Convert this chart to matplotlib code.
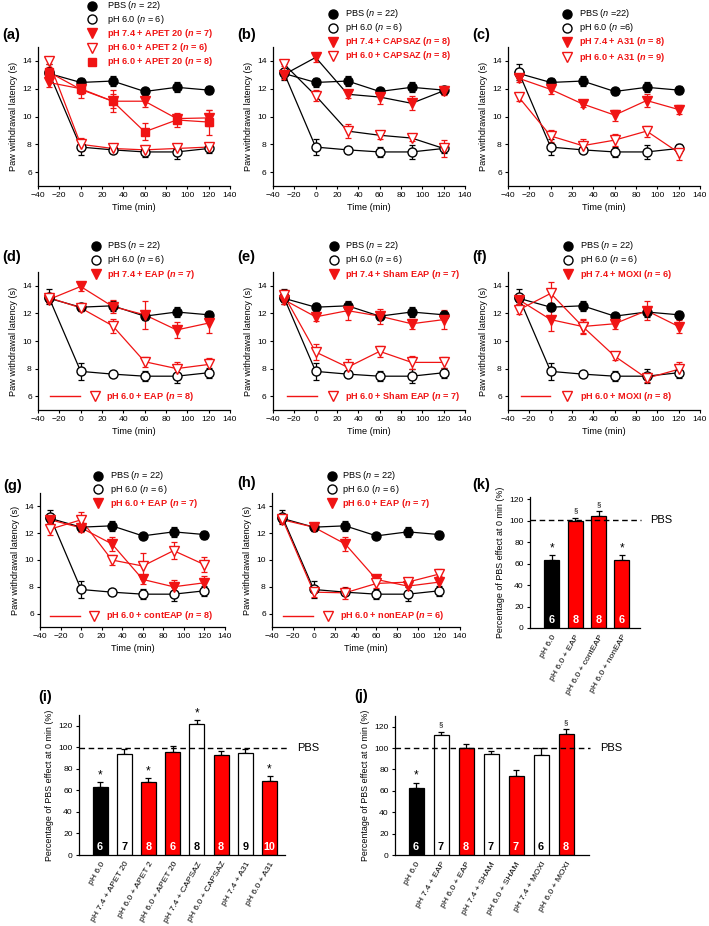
import matplotlib
matplotlib.use('Agg')
import matplotlib.pyplot as plt
import numpy as np
from matplotlib.lines import Line2D

plt.rcParams['font.family'] = ['Liberation Sans', 'DejaVu Sans']
plt.rcParams['mathtext.fontset'] = 'custom'
plt.rcParams['mathtext.rm'] = 'Liberation Sans'
plt.rcParams['mathtext.it'] = 'Liberation Sans:italic'
plt.rcParams['mathtext.bf'] = 'Liberation Sans:bold'
plt.rcParams['mathtext.bfit'] = 'Liberation Sans:bold:italic'

# ---------------- data ----------------
time = [-30, 0, 30, 60, 90, 120]
pbs_mean = [13.1, 12.45, 12.55, 11.8, 12.1, 11.9]
pbs_err = [0.3, 0.3, 0.35, 0.25, 0.35, 0.3]
ph6_mean = [13.2, 7.8, 7.6, 7.45, 7.45, 7.7]
ph6_err = [0.55, 0.6, 0.2, 0.35, 0.5, 0.35]

a_apet20_74 = [12.45, 12.0, 11.1, 11.1, 9.85, 9.9]
a_apet20_74_err = [0.35, 0.35, 0.5, 0.4, 0.3, 0.6]
a_apet2_60 = [14.0, 8.0, 7.7, 7.6, 7.7, 7.8]
a_apet2_60_err = [0.2, 0.45, 0.35, 0.2, 0.25, 0.2]
a_apet20_60 = [13.2, 11.95, 11.1, 8.9, 9.75, 9.6]
a_apet20_60_err = [0.35, 0.6, 0.8, 0.6, 0.5, 0.9]

b_caps_74 = [13.0, 14.25, 11.6, 11.4, 10.95, 11.85]
b_caps_74_err = [0.3, 0.35, 0.3, 0.5, 0.5, 0.3]
b_caps_60 = [13.8, 11.5, 8.95, 8.65, 8.45, 7.7]
b_caps_60_err = [0.2, 0.4, 0.5, 0.3, 0.2, 0.6]

c_a31_74 = [12.75, 11.95, 10.9, 10.1, 11.15, 10.5]
c_a31_74_err = [0.25, 0.35, 0.25, 0.4, 0.45, 0.3]
c_a31_60 = [11.4, 8.6, 7.9, 8.3, 8.95, 7.4]
c_a31_60_err = [0.3, 0.45, 0.5, 0.45, 0.4, 0.5]

d_eap_74 = [13.0, 13.95, 12.5, 11.9, 10.8, 11.3]
d_eap_74_err = [0.25, 0.35, 0.5, 1.0, 0.55, 0.75]
d_eap_60 = [13.15, 12.4, 11.1, 8.5, 8.0, 8.3]
d_eap_60_err = [0.3, 0.25, 0.5, 0.35, 0.5, 0.5]

e_sham_74 = [13.0, 11.75, 12.2, 11.8, 11.25, 11.55]
e_sham_74_err = [0.3, 0.3, 0.65, 0.55, 0.35, 0.7]
e_sham_60 = [13.35, 9.2, 8.1, 9.25, 8.45, 8.45]
e_sham_60_err = [0.35, 0.55, 0.6, 0.4, 0.45, 0.4]

f_moxi_74 = [13.0, 11.55, 11.05, 11.25, 12.2, 11.05]
f_moxi_74_err = [0.3, 0.85, 0.55, 0.4, 0.7, 0.45]
f_moxi_60 = [12.25, 13.45, 11.05, 8.9, 7.3, 7.95]
f_moxi_60_err = [0.3, 0.8, 0.5, 0.3, 0.3, 0.5]

g_eap_60 = [13.0, 12.4, 11.2, 8.55, 8.0, 8.3]
g_eap_60_err = [0.25, 0.3, 0.5, 0.35, 0.5, 0.5]
g_cont_60 = [12.3, 13.0, 10.0, 9.55, 10.7, 9.65]
g_cont_60_err = [0.45, 0.55, 0.4, 1.0, 0.65, 0.55]

h_eap_60 = [13.0, 12.45, 11.2, 8.55, 8.05, 8.35]
h_eap_60_err = [0.25, 0.3, 0.5, 0.35, 0.45, 0.45]
h_non_60 = [13.05, 7.6, 7.55, 8.25, 8.35, 8.95]
h_non_60_err = [0.3, 0.35, 0.45, 0.35, 0.3, 0.35]

i_labels = ['pH 6.0', 'pH 7.4 + APET 20', 'pH 6.0 + APET 2', 'pH 6.0 + APET 20',
            'pH 7.4 + CAPSAZ', 'pH 6.0 + CAPSAZ', 'pH 7.4 + A31', 'pH 6.0 + A31']
i_vals = [62.8, 93.7, 67.7, 95.9, 121.6, 92.8, 95.0, 69.0]
i_errs = [4.6, 5.0, 3.7, 5.0, 3.4, 4.0, 3.7, 4.0]
i_n = ['6', '7', '8', '6', '8', '8', '9', '10']
i_marks = ['*', '', '*', '', '*', '', '', '*']
i_kind = ['k', 'w', 'r', 'r', 'w', 'r', 'w', 'r']

j_labels = ['pH 6.0', 'pH 7.4 + EAP', 'pH 6.0 + EAP', 'pH 7.4 + SHAM',
            'pH 6.0 + SHAM', 'pH 7.4 + MOXI', 'pH 6.0 + MOXI']
j_vals = [63.1, 112.2, 99.8, 94.5, 74.3, 93.3, 113.1]
j_errs = [4.6, 3.1, 3.7, 2.8, 5.0, 7.0, 4.4]
j_n = ['6', '7', '8', '7', '7', '6', '8']
j_marks = ['*', '§', '', '', '', '', '§']
j_kind = ['k', 'w', 'r', 'w', 'r', 'w', 'r']

k_labels = ['pH 6.0', 'pH 6.0 + EAP', 'pH 6.0 + contEAP', 'pH 6.0 + nonEAP']
k_vals = [63.2, 99.7, 104.4, 63.2]
k_errs = [4.7, 3.0, 4.5, 4.5]
k_n = ['6', '8', '8', '6']
k_marks = ['*', '§', '§', '*']
k_kind = ['k', 'r', 'r', 'r']

# ---------------- figure ----------------
W, H = 709, 926
fig = plt.figure(figsize=(W / 100, H / 100), dpi=100)
RED = '#f01414'
FS = 6.6
TFS = 6.1
MS = 6.5


def rect(l, t, r, b):
    return [l / W, 1 - b / H, (r - l) / W, (b - t) / H]


def fx(x):
    return x / W


def fy(y):
    return 1 - y / H


def panel_letter(x, y, s):
    fig.text(fx(x), fy(y), s, fontsize=10.5, fontweight='bold', ha='left', va='center')


def leg_entry(xm, xt, y, label, marker, mfc, mec, red=False, line=None, ms=MS):
    if line is not None:
        fig.add_artist(Line2D([fx(line[0]), fx(line[1])], [fy(y), fy(y)], color=RED, lw=1.0,
                              transform=fig.transFigure))
    fig.add_artist(Line2D([fx(xm)], [fy(y)], marker=marker, ms=ms, mfc=mfc, mec=mec, mew=1.0,
                          ls='none', transform=fig.transFigure))
    fig.text(fx(xt), fy(y), label, color=RED if red else 'black', fontsize=FS,
             fontweight='bold' if red else 'normal', ha='left', va='center')


def style_axes(ax):
    for s in ['top', 'right']:
        ax.spines[s].set_visible(False)
    for s in ['left', 'bottom']:
        ax.spines[s].set_linewidth(0.9)
    ax.tick_params(direction='out', length=2.5, width=0.8, labelsize=TFS, pad=2)


def line_panel(r, series):
    ax = fig.add_axes(rect(*r))
    ax.set_xlim(-40, 140)
    ax.set_ylim(5, 15)
    ax.set_xticks(np.arange(-40, 141, 20))
    ax.set_yticks([6, 8, 10, 12, 14])
    style_axes(ax)
    ax.set_xlabel('Time (min)', fontsize=FS, labelpad=3)
    ax.set_ylabel('Paw withdrawal latency (s)', fontsize=FS, labelpad=3)
    for mean, err, marker, mfc, mec, lc, ms in series:
        ax.errorbar(time, mean, yerr=err, fmt='none', ecolor=mec, elinewidth=0.9,
                    capsize=2, capthick=0.9, zorder=2)
        ax.plot(time, mean, color=lc, lw=0.9, zorder=3)
        ax.plot(time, mean, ls='none', marker=marker, ms=ms, mfc=mfc, mec=mec, mew=1.0, zorder=4)
    return ax


def base_series():
    return [(pbs_mean, pbs_err, 'o', 'black', 'black', 'black', MS),
            (ph6_mean, ph6_err, 'o', 'white', 'black', 'black', MS)]


def fv(m, e):
    return (m, e, 'v', RED, RED, RED, MS)


def ov(m, e, lc=RED):
    return (m, e, 'v', 'white', RED, lc, MS)


# (a)
line_panel((38, 47, 230, 186), base_series() + [
    fv(a_apet20_74, a_apet20_74_err),
    ov(a_apet2_60, a_apet2_60_err),
    (a_apet20_60, a_apet20_60_err, 's', RED, RED, RED, 6.0)])
panel_letter(2, 35, '(a)')
leg_entry(92, 107, 6, r'PBS ($\mathit{n}$ = 22)', 'o', 'black', 'black')
leg_entry(92, 107, 19, r'pH 6.0 ($\mathit{n}$ = 6)', 'o', 'white', 'black')
leg_entry(92, 107, 33, r'pH 7.4 + APET 20 ($\mathbfit{n}$ = 7)', 'v', RED, RED, red=True)
leg_entry(92, 107, 48, r'pH 6.0 + APET 2 ($\mathbfit{n}$ = 6)', 'v', 'white', RED, red=True)
leg_entry(92, 107, 62, r'pH 6.0 + APET 20 ($\mathbfit{n}$ = 8)', 's', RED, RED, red=True, ms=6.0)

# (b)
line_panel((273, 47, 465, 186), base_series() + [
    (b_caps_74, b_caps_74_err, 'v', RED, RED, 'black', MS),
    (b_caps_60, b_caps_60_err, 'v', 'white', RED, 'black', MS)])
panel_letter(237, 35, '(b)')
leg_entry(333, 345, 14, r'PBS ($\mathit{n}$ = 22)', 'o', 'black', 'black')
leg_entry(333, 345, 28, r'pH 6.0 ($\mathit{n}$ = 6)', 'o', 'white', 'black')
leg_entry(333, 345, 42, r'pH 7.4 + CAPSAZ ($\mathbfit{n}$ = 8)', 'v', RED, RED, red=True)
leg_entry(333, 345, 56, r'pH 6.0 + CAPSAZ ($\mathbfit{n}$ = 8)', 'v', 'white', RED, red=True)

# (c)
line_panel((508, 47, 700, 186), base_series() + [
    fv(c_a31_74, c_a31_74_err), ov(c_a31_60, c_a31_60_err)])
panel_letter(472, 35, '(c)')
leg_entry(567, 579, 14, r'PBS ($\mathit{n}$ =22)', 'o', 'black', 'black')
leg_entry(567, 579, 28, r'pH 6.0 ($\mathit{n}$ =6)', 'o', 'white', 'black')
leg_entry(567, 579, 42, r'pH 7.4 + A31 ($\mathbfit{n}$ = 8)', 'v', RED, RED, red=True)
leg_entry(567, 579, 57, r'pH 6.0 + A31 ($\mathbfit{n}$ = 9)', 'v', 'white', RED, red=True)

# (d)
line_panel((38, 272, 230, 410), base_series() + [
    fv(d_eap_74, d_eap_74_err), ov(d_eap_60, d_eap_60_err)])
panel_letter(2, 257, '(d)')
leg_entry(96, 107, 246, r'PBS ($\mathit{n}$ = 22)', 'o', 'black', 'black')
leg_entry(96, 107, 260, r'pH 6.0 ($\mathit{n}$ = 6)', 'o', 'white', 'black')
leg_entry(96, 107, 274, r'pH 7.4 + EAP ($\mathbfit{n}$ = 7)', 'v', RED, RED, red=True)
leg_entry(95, 106, 396, r'pH 6.0 + EAP ($\mathbfit{n}$ = 8)', 'v', 'white', RED, red=True, line=(50, 80))

# (e)
line_panel((273, 272, 465, 410), base_series() + [
    fv(e_sham_74, e_sham_74_err), ov(e_sham_60, e_sham_60_err)])
panel_letter(237, 257, '(e)')
leg_entry(334, 345, 246, r'PBS ($\mathit{n}$ = 22)', 'o', 'black', 'black')
leg_entry(334, 345, 260, r'pH 6.0 ($\mathit{n}$ = 6)', 'o', 'white', 'black')
leg_entry(334, 345, 274, r'pH 7.4 + Sham EAP ($\mathbfit{n}$ = 7)', 'v', RED, RED, red=True)
leg_entry(333, 345, 396, r'pH 6.0 + Sham EAP ($\mathbfit{n}$ = 7)', 'v', 'white', RED, red=True, line=(287, 317))

# (f)
line_panel((508, 272, 700, 410), base_series() + [
    fv(f_moxi_74, f_moxi_74_err), ov(f_moxi_60, f_moxi_60_err)])
panel_letter(472, 257, '(f)')
leg_entry(568, 580, 246, r'PBS ($\mathit{n}$ = 22)', 'o', 'black', 'black')
leg_entry(568, 580, 260, r'pH 6.0 ($\mathit{n}$ = 6)', 'o', 'white', 'black')
leg_entry(568, 580, 274, r'pH 7.4 + MOXI ($\mathbfit{n}$ = 6)', 'v', RED, RED, red=True)
leg_entry(567, 580, 396, r'pH 6.0 + MOXI ($\mathbfit{n}$ = 8)', 'v', 'white', RED, red=True, line=(521, 550))

# (g)
line_panel((40, 493, 225, 627), base_series() + [
    fv(g_eap_60, g_eap_60_err), ov(g_cont_60, g_cont_60_err)])
panel_letter(3, 486, '(g)')
leg_entry(98, 110, 476, r'PBS ($\mathit{n}$ = 22)', 'o', 'black', 'black')
leg_entry(98, 110, 489, r'pH 6.0 ($\mathit{n}$ = 6)', 'o', 'white', 'black')
leg_entry(98, 110, 503, r'pH 6.0 + EAP ($\mathbfit{n}$ = 7)', 'v', RED, RED, red=True)
leg_entry(94, 106, 616, r'pH 6.0 + contEAP ($\mathbfit{n}$ = 8)', 'v', 'white', RED, red=True, line=(50, 80))

# (h)
line_panel((272, 493, 460, 627), base_series() + [
    fv(h_eap_60, h_eap_60_err), ov(h_non_60, h_non_60_err)])
panel_letter(237, 483, '(h)')
leg_entry(332, 342, 476, r'PBS ($\mathit{n}$ = 22)', 'o', 'black', 'black')
leg_entry(332, 342, 489, r'pH 6.0 ($\mathit{n}$ = 6)', 'o', 'white', 'black')
leg_entry(332, 342, 503, r'pH 6.0 + EAP ($\mathbfit{n}$ = 7)', 'v', RED, RED, red=True)
leg_entry(328, 340, 616, r'pH 6.0 + nonEAP ($\mathbfit{n}$ = 6)', 'v', 'white', RED, red=True, line=(283, 313))


# ---------------- bar panels ----------------
KIND_FACE = {'k': 'black', 'w': 'white', 'r': '#ff0000'}
KIND_TXT = {'k': 'white', 'w': 'black', 'r': 'white'}


def bar_panel(r, labels, vals, errs, ns, marks, kinds, xlim, ylim, pbs_y, pbs_ext, width):
    ax = fig.add_axes(rect(*r))
    x = np.arange(len(vals))
    ax.set_xlim(*xlim)
    ax.set_ylim(*ylim)
    style_axes(ax)
    ax.bar(x, vals, width=width, color=[KIND_FACE[k] for k in kinds], edgecolor='black',
           linewidth=0.9, zorder=2)
    ax.errorbar(x, vals, yerr=[np.zeros(len(vals)), errs], fmt='none', ecolor='black',
                elinewidth=0.9, capsize=2.2, capthick=0.9, zorder=1)
    for xi, v, e, n, m, k in zip(x, vals, errs, ns, marks, kinds):
        ax.text(xi, 2.5, n, ha='center', va='bottom', fontsize=7.8, fontweight='bold',
                color=KIND_TXT[k], zorder=3)
        if m == '*':
            ax.text(xi, v + e + 1.0, m, ha='center', va='bottom', fontsize=8.5)
        elif m:
            ax.text(xi, v + e + 3.0, m, ha='center', va='bottom', fontsize=5.5)
    ax.plot([xlim[0], xlim[1] + pbs_ext], [pbs_y, pbs_y], color='black', lw=1.0,
            dashes=(4, 2.6), clip_on=False, zorder=4)
    ax.text(xlim[1] + pbs_ext + 0.4, pbs_y, 'PBS', fontsize=8, ha='left', va='center')
    ax.set_yticks(np.arange(0, 121, 20))
    ax.set_xticks(x)
    ax.set_xticklabels(labels, rotation=60, ha='right', rotation_mode='anchor', fontsize=TFS)
    ax.tick_params(axis='x', length=0, pad=4)
    ax.set_ylabel('Percentage of PBS effect at 0 min (%)', fontsize=6.4, labelpad=3)
    return ax


bar_panel((79, 715, 285, 855), i_labels, i_vals, i_errs, i_n, i_marks, i_kind,
          (-0.87, 7.64), (0, 130), 99.5, 0.1, 0.62)
panel_letter(38, 697, '(i)')

bar_panel((395, 716, 589, 855), j_labels, j_vals, j_errs, j_n, j_marks, j_kind,
          (-0.84, 6.92), (0, 130), 100, 0.05, 0.6)
panel_letter(354, 696, '(j)')

bar_panel((530, 497, 640, 628), k_labels, k_vals, k_errs, k_n, k_marks, k_kind,
          (-0.94, 3.78), (0, 122), 101, 0.05, 0.64)
panel_letter(472, 485, '(k)')

fig.savefig('out.png', dpi=100)
